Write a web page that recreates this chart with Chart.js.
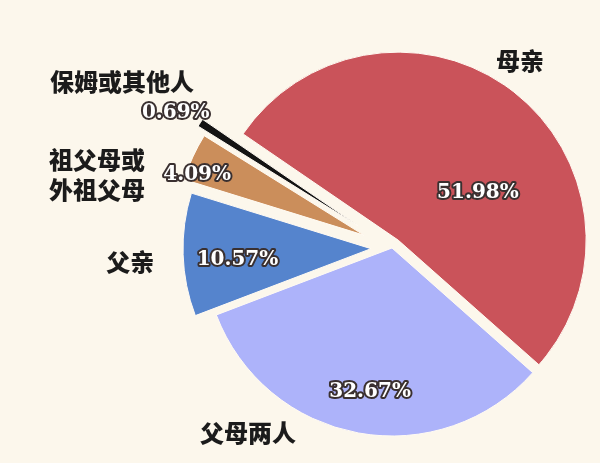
<!DOCTYPE html>
<html>
<head>
<meta charset="utf-8">
<script src="https://cdn.jsdelivr.net/npm/chart.js@4"></script>
<style>
    html, body { margin: 0; padding: 0; background: #fcf7ec; }
    #wrap { width: 600px; height: 463px; position: relative; }
</style>
</head>
<body>
<div id="wrap"><canvas id="pieChart"></canvas></div>
<script>
// Data
const categories = ["母亲", "父母两人", "父亲", "祖父母或\n外祖父母", "保姆或其他人"];
const shares = [51.98, 32.67, 10.57, 4.09, 0.69];

// Styles
const sliceColors = ["#ca535a", "#adb3fa", "#5584cd", "#cb8e5b", "#141414"];
const sliceExplode = [10, 0, 21, 31, 41]; // px each slice is pulled out
const pieRadius = 188;

// label spots around the pie centre: [angle in degrees, distance in px]
const pctSpots = [[-32.6, 102], [98.7, 145], [175.6, 155], [200.5, 208], [212, 255]];
const nameSpots = [[-55.7, 227], [128, 234], [177, 262], [193.9, 304], [211.6, 317]];

// Pull slices out (the built-in offset narrows thin slices away)
const explode = {
    id: "explode",
    afterDatasetsUpdate(chart) {
        const meta = chart.getDatasetMeta(0);
        meta.data.forEach((arc, i) => {
            const mid = (arc.startAngle + arc.endAngle) / 2;
            arc.x += Math.cos(mid) * sliceExplode[i];
            arc.y += Math.sin(mid) * sliceExplode[i];
        });
    }
};

// Text labels
const pieLabels = {
    id: "pieLabels",
    afterDraw(chart) {
        const ctx = chart.ctx;
        const area = chart.chartArea;
        const cx = (area.left + area.right) / 2, cy = (area.top + area.bottom) / 2;
        ctx.save();
        ctx.textAlign = "center";
        ctx.textBaseline = "middle";

        // percentages
        ctx.font = "bold 20px 'DejaVu Serif'";
        ctx.lineJoin = "round";
        shares.forEach((v, i) => {
            const a = pctSpots[i][0] * Math.PI / 180;
            const x = cx + Math.cos(a) * pctSpots[i][1];
            const y = cy + Math.sin(a) * pctSpots[i][1];
            const txt = v.toFixed(2) + "%";
            ctx.lineWidth = 4;
            ctx.strokeStyle = "#3a3030";
            ctx.strokeText(txt, x, y);
            ctx.fillStyle = "#ffffff";
            ctx.fillText(txt, x, y);
        });

        // category names
        ctx.font = "900 24px 'Noto Sans CJK SC'";
        ctx.fillStyle = "#1b1b1b";
        categories.forEach((c, i) => {
            const a = nameSpots[i][0] * Math.PI / 180;
            const x = cx + Math.cos(a) * nameSpots[i][1];
            const y = cy + Math.sin(a) * nameSpots[i][1];
            const lines = c.split("\n");
            lines.forEach((ln, k) => {
                ctx.fillText(ln, x, y + (k - (lines.length - 1) / 2) * 30);
            });
        });
        ctx.restore();
    }
};

new Chart(document.getElementById("pieChart"), {
    type: "pie",
    data: {
        labels: categories,
        datasets: [{
            data: shares,
            backgroundColor: sliceColors,
            borderColor: "#fffaf2",
            borderWidth: 1
        }]
    },
    options: {
        responsive: true,
        maintainAspectRatio: false,
        animation: false,
        rotation: -55.6,
        radius: pieRadius,
        layout: { padding: { left: 184, top: 33, right: 0, bottom: 0 } },
        plugins: {
            legend: { display: false },
            tooltip: { enabled: false }
        }
    },
    plugins: [explode, pieLabels]
});
</script>
</body>
</html>
